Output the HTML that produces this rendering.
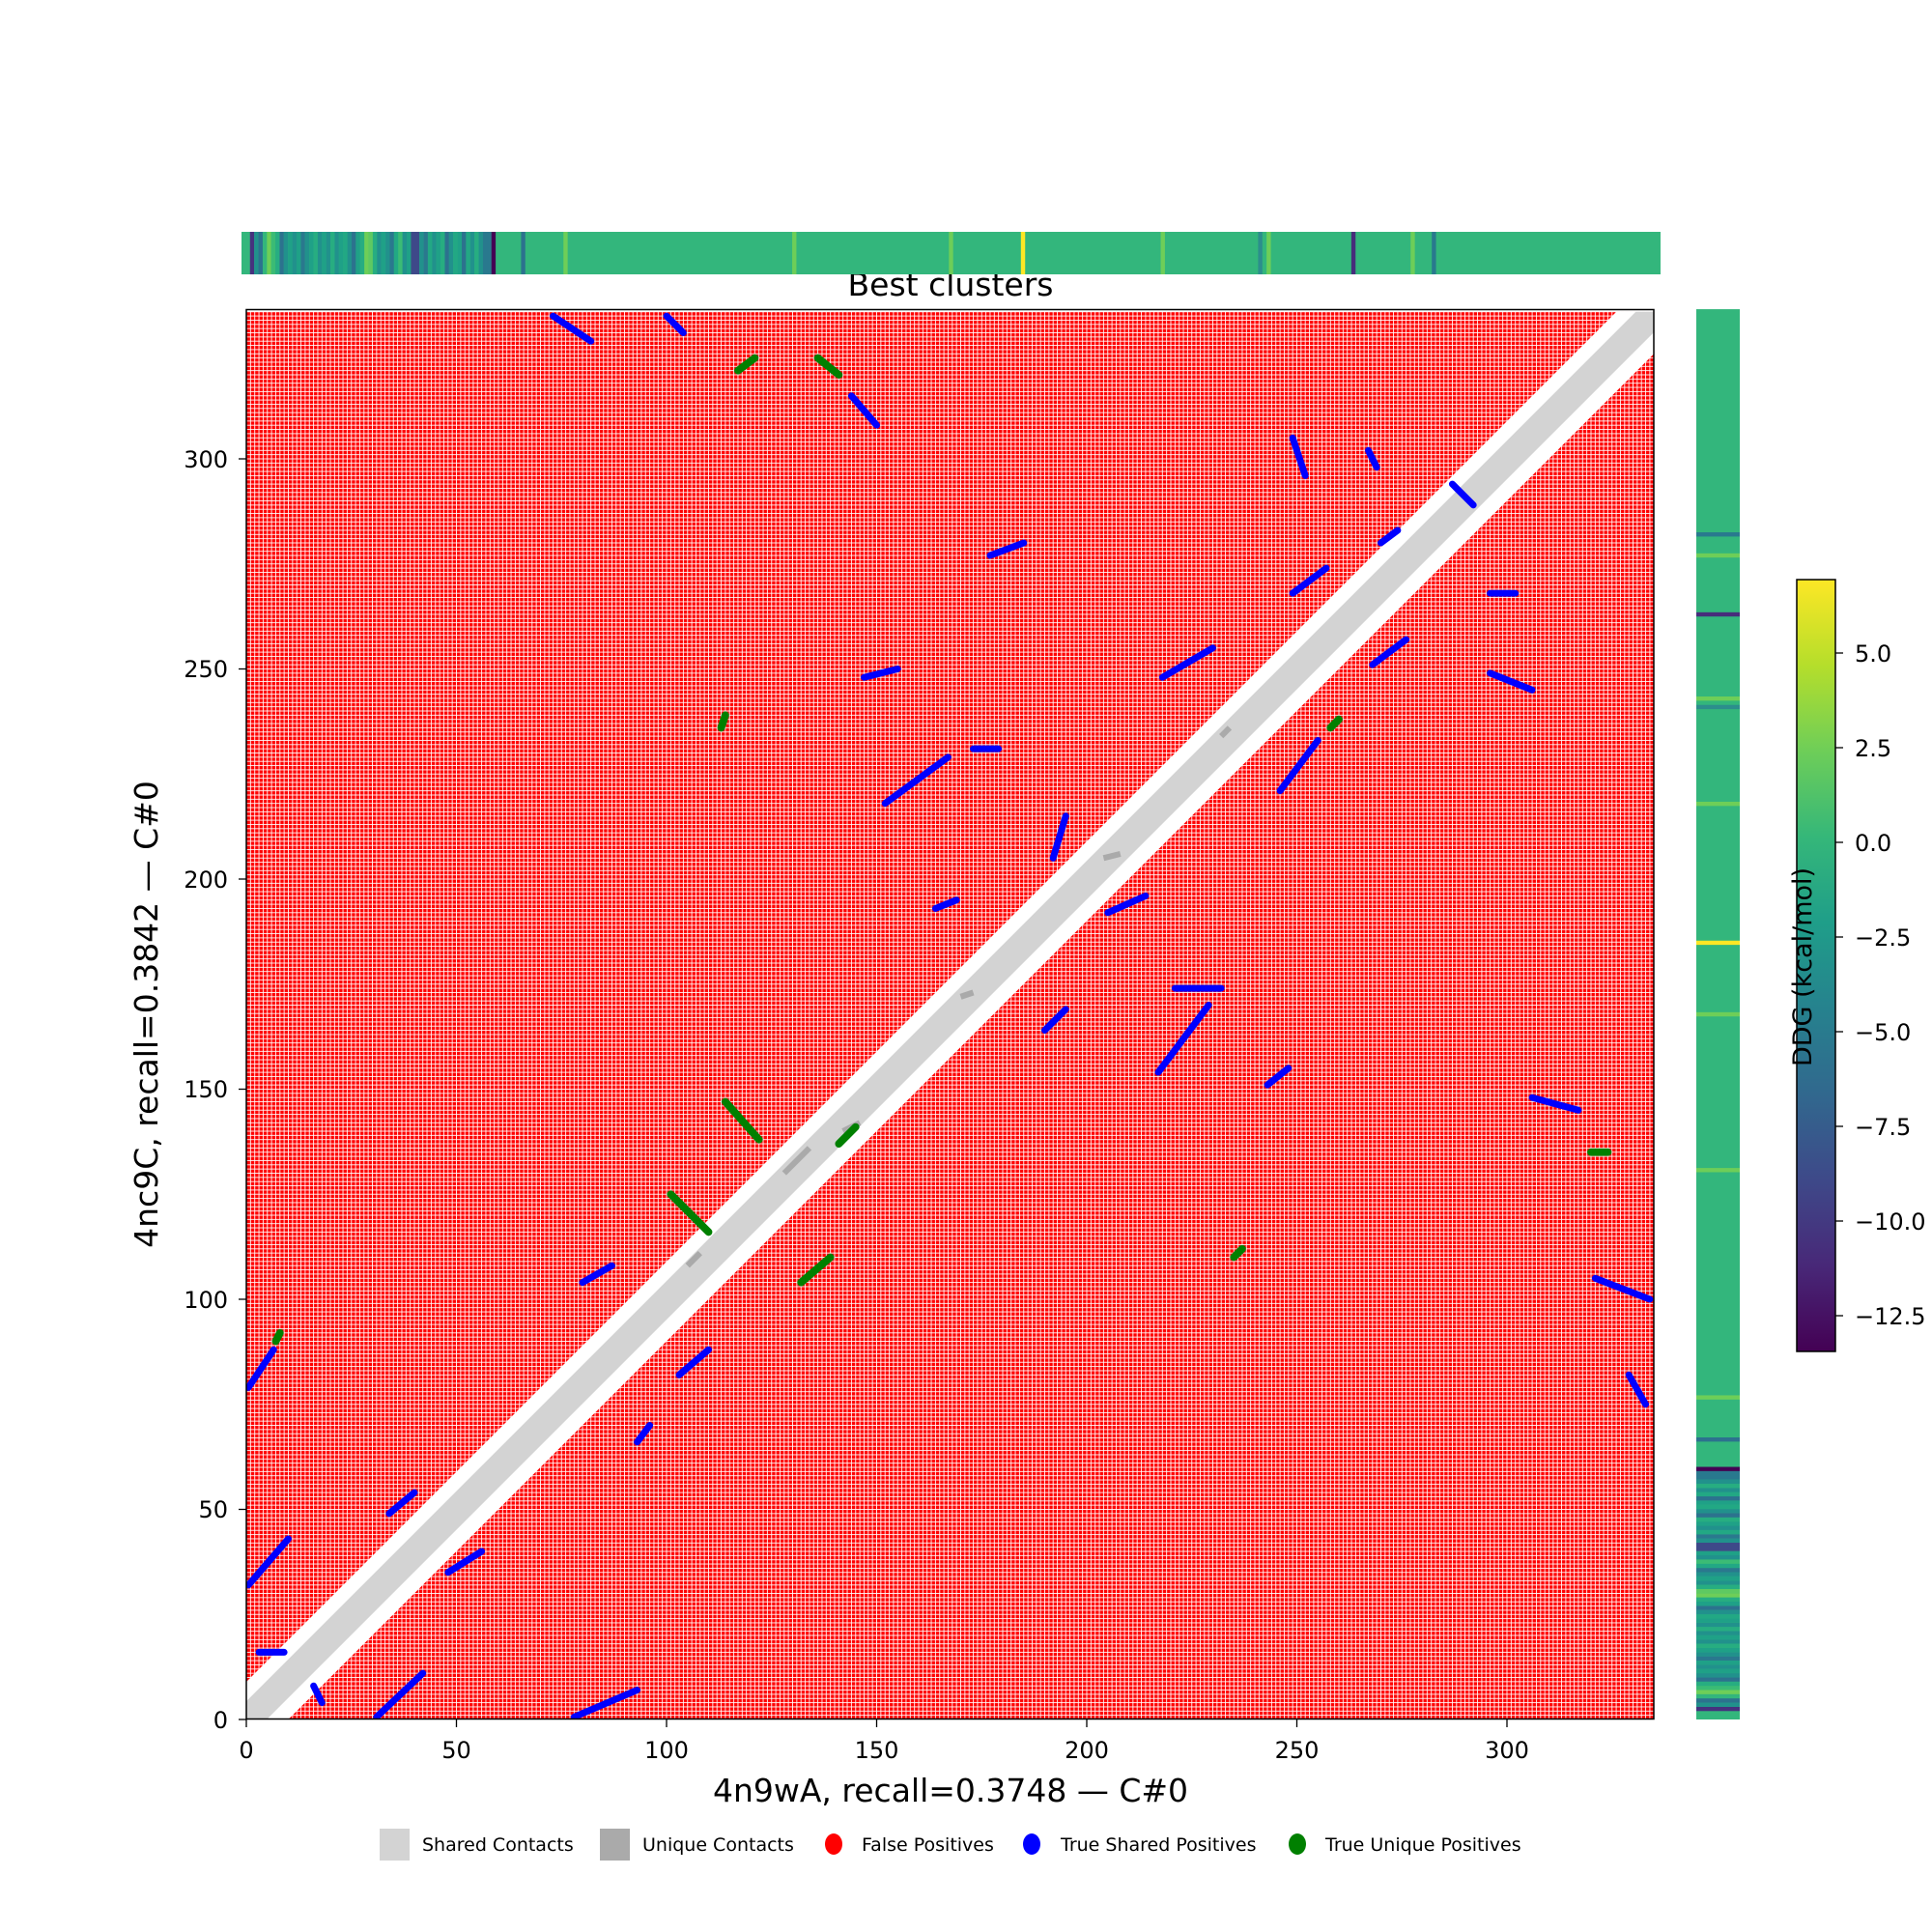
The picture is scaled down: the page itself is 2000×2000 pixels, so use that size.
<!DOCTYPE html>
<html><head><meta charset="utf-8"><style>
html,body{margin:0;padding:0;background:#fff;}
svg{display:block;font-family:"DejaVu Sans","Liberation Sans",sans-serif;}
</style></head><body>
<svg width="2000" height="2000" viewBox="0 0 2000 2000" xmlns="http://www.w3.org/2000/svg">
<defs>
<pattern id="red" patternUnits="userSpaceOnUse" x="0" y="0" width="1" height="1">
<rect x="0.1" y="0.1" width="0.8" height="0.8" fill="#ff0000"/>
</pattern>
<linearGradient id="vir" x1="0" y1="1" x2="0" y2="0">
<stop offset="0" stop-color="#440154"/><stop offset="0.111" stop-color="#482878"/>
<stop offset="0.222" stop-color="#3e4989"/><stop offset="0.333" stop-color="#31688e"/>
<stop offset="0.444" stop-color="#26828e"/><stop offset="0.556" stop-color="#1f9e89"/>
<stop offset="0.667" stop-color="#35b779"/><stop offset="0.778" stop-color="#6ece58"/>
<stop offset="0.889" stop-color="#b5de2b"/><stop offset="1" stop-color="#fde725"/>
</linearGradient>
<clipPath id="pc"><rect x="0" y="0" width="335" height="335"/></clipPath>
<g id="stripes">
<rect x="0" y="0" width="335" height="1" fill="#33b67c"/>
<rect x="2" y="0" width="1" height="1" fill="#46327e"/>
<rect x="3" y="0" width="1" height="1" fill="#21918c"/>
<rect x="4" y="0" width="1" height="1" fill="#2c728e"/>
<rect x="6" y="0" width="1" height="1" fill="#6ece58"/>
<rect x="7" y="0" width="1" height="1" fill="#3bbb75"/>
<rect x="8" y="0" width="1" height="1" fill="#27ad81"/>
<rect x="9" y="0" width="1" height="1" fill="#2c728e"/>
<rect x="10" y="0" width="1" height="1" fill="#21918c"/>
<rect x="11" y="0" width="1" height="1" fill="#1fa187"/>
<rect x="12" y="0" width="1" height="1" fill="#21918c"/>
<rect x="13" y="0" width="1" height="1" fill="#1fa187"/>
<rect x="14" y="0" width="1" height="1" fill="#2a788e"/>
<rect x="15" y="0" width="1" height="1" fill="#21918c"/>
<rect x="16" y="0" width="1" height="1" fill="#1fa187"/>
<rect x="17" y="0" width="1" height="1" fill="#27ad81"/>
<rect x="18" y="0" width="1" height="1" fill="#21918c"/>
<rect x="19" y="0" width="1" height="1" fill="#1fa187"/>
<rect x="20" y="0" width="1" height="1" fill="#21918c"/>
<rect x="21" y="0" width="1" height="1" fill="#27ad81"/>
<rect x="22" y="0" width="1" height="1" fill="#21918c"/>
<rect x="23" y="0" width="1" height="1" fill="#1fa187"/>
<rect x="24" y="0" width="1" height="1" fill="#22a884"/>
<rect x="25" y="0" width="1" height="1" fill="#21918c"/>
<rect x="26" y="0" width="1" height="1" fill="#2c728e"/>
<rect x="27" y="0" width="1" height="1" fill="#1fa187"/>
<rect x="28" y="0" width="1" height="1" fill="#27ad81"/>
<rect x="29" y="0" width="1" height="1" fill="#6ece58"/>
<rect x="30" y="0" width="1" height="1" fill="#5ec962"/>
<rect x="31" y="0" width="1" height="1" fill="#27ad81"/>
<rect x="32" y="0" width="1" height="1" fill="#21918c"/>
<rect x="33" y="0" width="1" height="1" fill="#1fa187"/>
<rect x="34" y="0" width="1" height="1" fill="#21918c"/>
<rect x="35" y="0" width="1" height="1" fill="#2a788e"/>
<rect x="36" y="0" width="1" height="1" fill="#22a884"/>
<rect x="37" y="0" width="1" height="1" fill="#3bbb75"/>
<rect x="38" y="0" width="1" height="1" fill="#21918c"/>
<rect x="39" y="0" width="1" height="1" fill="#1fa187"/>
<rect x="40" y="0" width="2" height="1" fill="#3e4989"/>
<rect x="42" y="0" width="1" height="1" fill="#21918c"/>
<rect x="43" y="0" width="1" height="1" fill="#2a788e"/>
<rect x="44" y="0" width="1" height="1" fill="#22a884"/>
<rect x="45" y="0" width="1" height="1" fill="#21918c"/>
<rect x="46" y="0" width="1" height="1" fill="#1fa187"/>
<rect x="47" y="0" width="1" height="1" fill="#27ad81"/>
<rect x="48" y="0" width="1" height="1" fill="#2c728e"/>
<rect x="49" y="0" width="1" height="1" fill="#21918c"/>
<rect x="50" y="0" width="1" height="1" fill="#22a884"/>
<rect x="51" y="0" width="1" height="1" fill="#1fa187"/>
<rect x="52" y="0" width="1" height="1" fill="#2c728e"/>
<rect x="53" y="0" width="1" height="1" fill="#22a884"/>
<rect x="54" y="0" width="1" height="1" fill="#21918c"/>
<rect x="55" y="0" width="1" height="1" fill="#27ad81"/>
<rect x="56" y="0" width="1" height="1" fill="#21918c"/>
<rect x="57" y="0" width="2" height="1" fill="#29798e"/>
<rect x="59" y="0" width="1" height="1" fill="#440154"/>
<rect x="66" y="0" width="1" height="1" fill="#2c728e"/>
<rect x="76" y="0" width="1" height="1" fill="#6ece58"/>
<rect x="130" y="0" width="1" height="1" fill="#6ece58"/>
<rect x="167" y="0" width="1" height="1" fill="#6ece58"/>
<rect x="184" y="0" width="1" height="1" fill="#fde725"/>
<rect x="217" y="0" width="1" height="1" fill="#6ece58"/>
<rect x="240" y="0" width="1" height="1" fill="#2c8e8c"/>
<rect x="242" y="0" width="1" height="1" fill="#6ece58"/>
<rect x="262" y="0" width="1" height="1" fill="#472d7b"/>
<rect x="276" y="0" width="1" height="1" fill="#6ece58"/>
<rect x="281" y="0" width="1" height="1" fill="#29798e"/>
</g>
</defs>

<text x="984" y="306" font-size="33" text-anchor="middle" fill="#000">Best clusters</text>

<use href="#stripes" transform="translate(250,240) scale(4.385,44)"/>
<use href="#stripes" transform="matrix(0,-4.358,45,0,1756,1780)"/>

<g transform="translate(255,1780) scale(4.35,-4.35)">
<rect x="0" y="0" width="335" height="335" fill="#fff"/>
<rect x="0" y="0" width="335" height="335" fill="url(#red)"/>
<g clip-path="url(#pc)">
<line x1="-8" y1="-8.5" x2="345" y2="344.5" stroke="#fff" stroke-width="13.4"/>
<line x1="-8" y1="-8.25" x2="345" y2="344.75" stroke="#d3d3d3" stroke-width="6.5"/>
<g stroke="#aaa" stroke-width="1.4">
<line x1="128" y1="130" x2="134" y2="136"/><line x1="142" y1="140" x2="146" y2="142"/>
<line x1="204" y1="205" x2="208" y2="206"/><line x1="170" y1="172" x2="173" y2="173"/>
<line x1="232" y1="234" x2="234" y2="236"/><line x1="105" y1="108" x2="108" y2="111"/>
</g>
<g stroke="#0000ff" stroke-width="1.6" stroke-linecap="round">
<line x1="0.5" y1="79" x2="6.5" y2="88"/><line x1="0.5" y1="32" x2="10" y2="43"/>
<line x1="31" y1="0.6" x2="42" y2="11"/><line x1="78" y1="0.6" x2="93" y2="7"/>
<line x1="34" y1="49" x2="40" y2="54"/><line x1="48" y1="35" x2="56" y2="40"/>
<line x1="80" y1="104" x2="87" y2="108"/><line x1="103" y1="82" x2="110" y2="88"/>
<line x1="152" y1="218" x2="167" y2="229"/><line x1="173" y1="231" x2="179" y2="231"/>
<line x1="164" y1="193" x2="169" y2="195"/><line x1="192" y1="205" x2="195" y2="215"/>
<line x1="205" y1="192" x2="214" y2="196"/><line x1="218" y1="248" x2="230" y2="255"/>
<line x1="246" y1="221" x2="255" y2="233"/><line x1="249" y1="268" x2="257" y2="274"/>
<line x1="268" y1="251" x2="276" y2="257"/><line x1="217" y1="154" x2="229" y2="170"/>
<line x1="243" y1="151" x2="248" y2="155"/><line x1="221" y1="174" x2="232" y2="174"/>
<line x1="190" y1="164" x2="195" y2="169"/><line x1="306" y1="148" x2="317" y2="145"/>
<line x1="296" y1="249" x2="306" y2="245"/><line x1="296" y1="268" x2="302" y2="268"/>
<line x1="321" y1="105" x2="334" y2="100"/><line x1="329" y1="82" x2="333" y2="75"/>
<line x1="249" y1="305" x2="252" y2="296"/><line x1="267" y1="302" x2="269" y2="298"/>
<line x1="270" y1="280" x2="274" y2="283"/><line x1="177" y1="277" x2="185" y2="280"/>
<line x1="144" y1="315" x2="150" y2="308"/><line x1="100" y1="334" x2="104" y2="330"/>
<line x1="73" y1="334" x2="82" y2="328"/><line x1="147" y1="248" x2="155" y2="250"/>
<line x1="287" y1="294" x2="292" y2="289"/><line x1="3" y1="16" x2="9" y2="16"/>
<line x1="16" y1="8" x2="18" y2="4"/><line x1="93" y1="66" x2="96" y2="70"/>
</g>
<g stroke="#008000" stroke-width="1.8" stroke-linecap="round">
<line x1="101" y1="125" x2="110" y2="116"/><line x1="114" y1="147" x2="122" y2="138"/>
<line x1="132" y1="104" x2="139" y2="110"/><line x1="141" y1="137" x2="145" y2="141"/>
<line x1="113" y1="236" x2="114" y2="239"/><line x1="117" y1="321" x2="121" y2="324"/>
<line x1="136" y1="324" x2="141" y2="320"/><line x1="235" y1="110" x2="237" y2="112"/>
<line x1="320" y1="135" x2="324" y2="135"/><line x1="258" y1="236" x2="260" y2="238"/>
<line x1="7" y1="90" x2="8" y2="92"/>
</g>
</g>
</g>
<rect x="255" y="320.5" width="1457" height="1459" fill="none" stroke="#000" stroke-width="1.5"/>

<g stroke="#000" stroke-width="1.3">
<line x1="255" y1="1780" x2="255" y2="1788"/><line x1="472.5" y1="1780" x2="472.5" y2="1788"/>
<line x1="690" y1="1780" x2="690" y2="1788"/><line x1="907.5" y1="1780" x2="907.5" y2="1788"/>
<line x1="1125" y1="1780" x2="1125" y2="1788"/><line x1="1342.5" y1="1780" x2="1342.5" y2="1788"/>
<line x1="1560" y1="1780" x2="1560" y2="1788"/>
<line x1="247" y1="1780" x2="255" y2="1780"/><line x1="247" y1="1562.5" x2="255" y2="1562.5"/>
<line x1="247" y1="1345" x2="255" y2="1345"/><line x1="247" y1="1127.5" x2="255" y2="1127.5"/>
<line x1="247" y1="910" x2="255" y2="910"/><line x1="247" y1="692.5" x2="255" y2="692.5"/>
<line x1="247" y1="475" x2="255" y2="475"/>
<line x1="1900" y1="676" x2="1908" y2="676"/><line x1="1900" y1="774" x2="1908" y2="774"/>
<line x1="1900" y1="872" x2="1908" y2="872"/><line x1="1900" y1="970" x2="1908" y2="970"/>
<line x1="1900" y1="1068" x2="1908" y2="1068"/><line x1="1900" y1="1166" x2="1908" y2="1166"/>
<line x1="1900" y1="1264" x2="1908" y2="1264"/><line x1="1900" y1="1362" x2="1908" y2="1362"/>
</g>
<g font-size="24" fill="#000" text-anchor="middle">
<text x="255" y="1820">0</text><text x="472.5" y="1820">50</text><text x="690" y="1820">100</text>
<text x="907.5" y="1820">150</text><text x="1125" y="1820">200</text><text x="1342.5" y="1820">250</text>
<text x="1560" y="1820">300</text>
</g>
<g font-size="24" fill="#000" text-anchor="end">
<text x="236" y="1789">0</text><text x="236" y="1571">50</text><text x="236" y="1354">100</text>
<text x="236" y="1136">150</text><text x="236" y="919">200</text><text x="236" y="701">250</text>
<text x="236" y="484">300</text>
</g>
<text x="984" y="1865" font-size="33" text-anchor="middle">4n9wA, recall=0.3748 — C#0</text>
<text transform="translate(163,1050) rotate(-90)" font-size="33" text-anchor="middle">4nc9C, recall=0.3842 — C#0</text>

<rect x="1860" y="600" width="40" height="799" fill="url(#vir)" stroke="#000" stroke-width="1.5"/>
<g font-size="24" fill="#000">
<text x="1920" y="685">5.0</text><text x="1920" y="783">2.5</text><text x="1920" y="881">0.0</text>
<text x="1920" y="979">−2.5</text><text x="1920" y="1077">−5.0</text><text x="1920" y="1175">−7.5</text>
<text x="1920" y="1273">−10.0</text><text x="1920" y="1371">−12.5</text>
</g>
<text transform="translate(1875,1001) rotate(-90)" font-size="27" text-anchor="middle">DDG (kcal/mol)</text>

<rect x="393" y="1893" width="31" height="33" fill="#d3d3d3"/>
<text x="437" y="1916" font-size="19">Shared Contacts</text>
<rect x="621" y="1893" width="31" height="33" fill="#aaaaaa"/>
<text x="665" y="1916" font-size="19">Unique Contacts</text>
<ellipse cx="863" cy="1909" rx="9" ry="11" fill="#ff0000"/>
<text x="892" y="1916" font-size="19">False Positives</text>
<ellipse cx="1068" cy="1909" rx="9" ry="11" fill="#0000ff"/>
<text x="1098" y="1916" font-size="19">True Shared Positives</text>
<ellipse cx="1343" cy="1909" rx="9" ry="11" fill="#008000"/>
<text x="1372" y="1916" font-size="19">True Unique Positives</text>
</svg>
</body></html>
